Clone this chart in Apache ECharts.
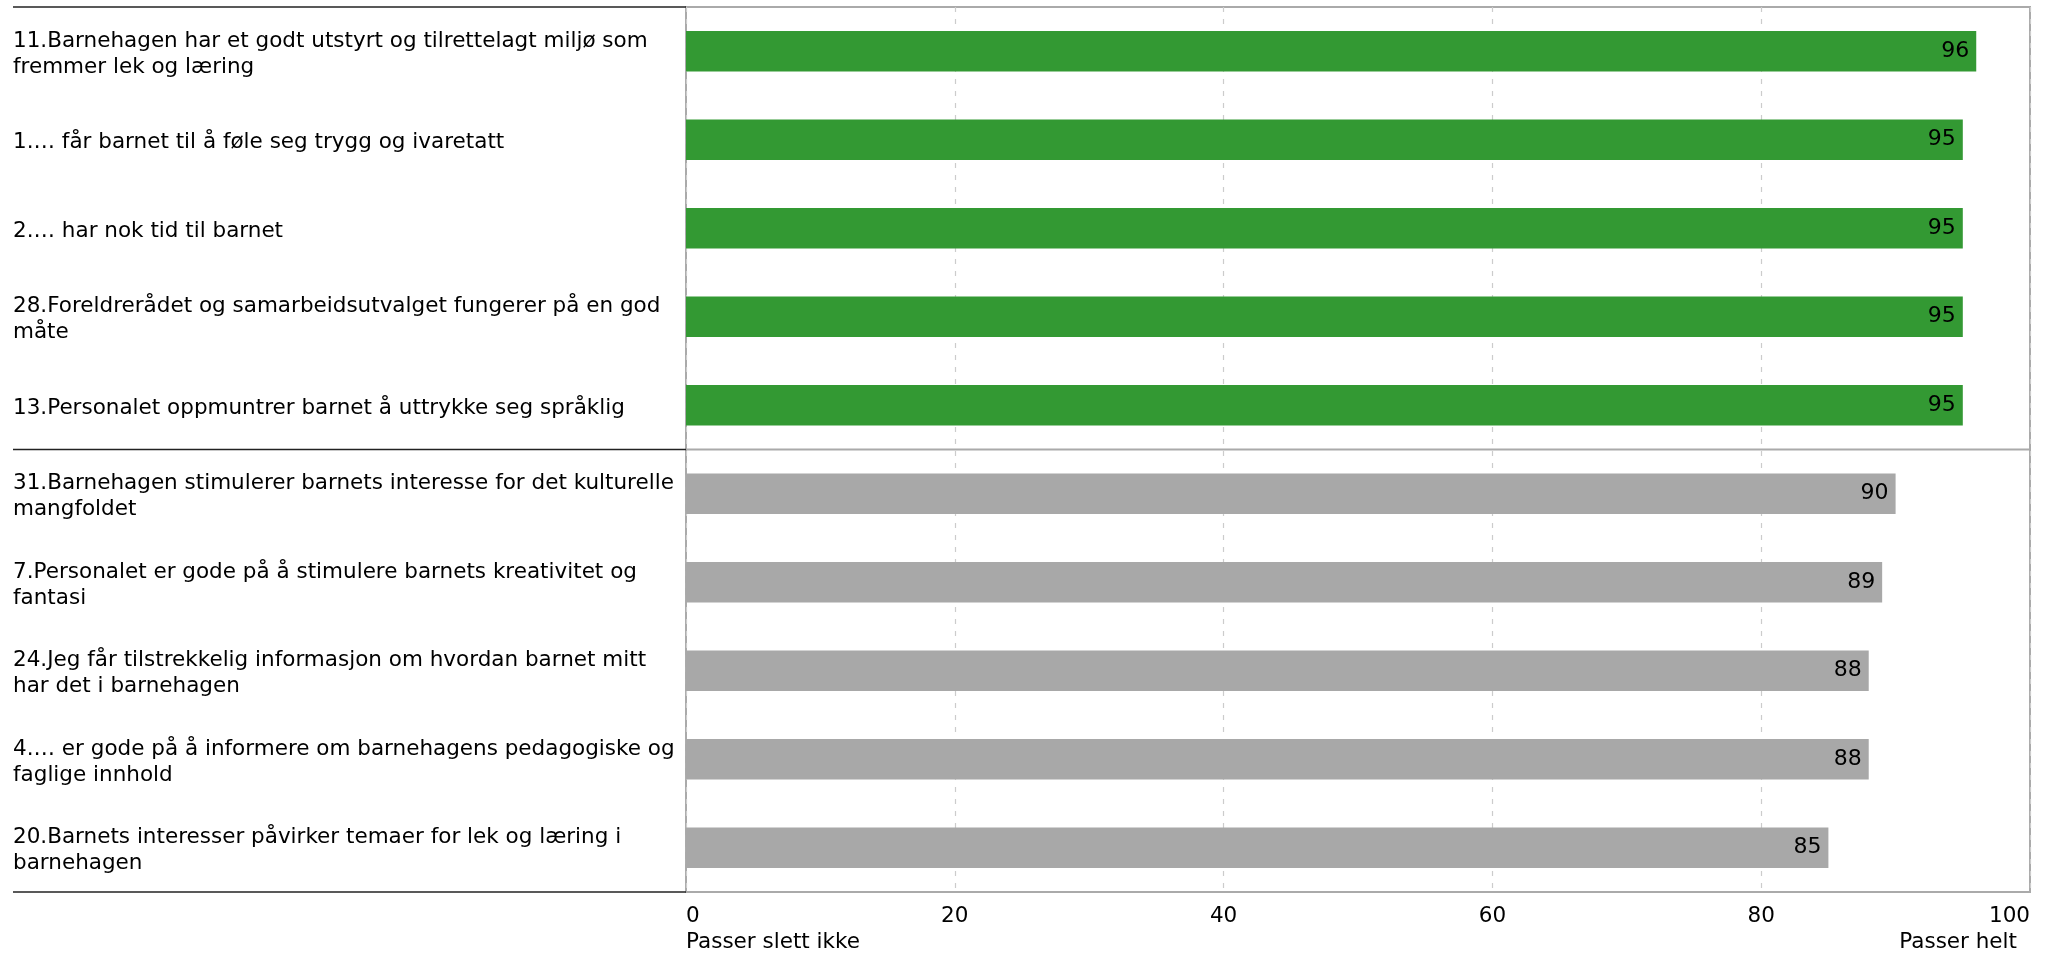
<!DOCTYPE html>
<html>
<head>
<meta charset="utf-8">
<script src="https://cdn.jsdelivr.net/npm/echarts@6/dist/echarts.min.js"></script>
<style>
html,body{margin:0;padding:0;background:#fff;}
#chart{width:2049px;height:953px;}
</style>
</head>
<body>
<div id="chart"></div>
<script>
const categories = [
  "11.Barnehagen har et godt utstyrt og tilrettelagt miljø som\nfremmer lek og læring",
  "1.… får barnet til å føle seg trygg og ivaretatt",
  "2.… har nok tid til barnet",
  "28.Foreldrerådet og samarbeidsutvalget fungerer på en god\nmåte",
  "13.Personalet oppmuntrer barnet å uttrykke seg språklig",
  "31.Barnehagen stimulerer barnets interesse for det kulturelle\nmangfoldet",
  "7.Personalet er gode på å stimulere barnets kreativitet og\nfantasi",
  "24.Jeg får tilstrekkelig informasjon om hvordan barnet mitt\nhar det i barnehagen",
  "4.… er gode på å informere om barnehagens pedagogiske og\nfaglige innhold",
  "20.Barnets interesser påvirker temaer for lek og læring i\nbarnehagen"
];
const values = [96, 95, 95, 95, 95, 90, 89, 88, 88, 85];
const highlighted = [1, 1, 1, 1, 1, 0, 0, 0, 0, 0];
const axisMinLabel = "Passer slett ikke";
const axisMaxLabel = "Passer helt";

const FONT = "DejaVu Sans";
const FS = 21.5;
const GRID = {left: 686, right: 19, top: 7, bottom: 61};
const chart = echarts.init(document.getElementById('chart'), null, {renderer: 'canvas'});

chart.setOption({
  animation: false,
  backgroundColor: '#fff',
  textStyle: {fontFamily: FONT},
  grid: {left: GRID.left, right: GRID.right, top: GRID.top, bottom: GRID.bottom,
         show: true, borderColor: '#aaaaaa', borderWidth: 2, containLabel: false},
  xAxis: {
    type: 'value', min: 0, max: 100, interval: 20,
    axisLine: {show: false}, axisTick: {show: false},
    splitLine: {show: true, lineStyle: {color: '#cccccc', type: [5, 7], width: 1.2}},
    axisLabel: {
      fontFamily: FONT, fontSize: FS, color: '#000', margin: 11,
      alignMinLabel: 'left', alignMaxLabel: 'right',
      formatter: function (v) {
        if (v === 0) return '{v|0}\n{n|' + axisMinLabel + '}';
        if (v === 100) return '{v|100}\n{m|' + axisMaxLabel + '}';
        return '{v|' + v + '}';
      },
      rich: {
        v: {fontFamily: FONT, fontSize: FS, color: '#000', lineHeight: 26},
        n: {fontFamily: FONT, fontSize: FS, color: '#000', lineHeight: 26},
        m: {fontFamily: FONT, fontSize: FS, color: '#000', lineHeight: 26, padding: [0, 13, 0, 0]}
      }
    }
  },
  yAxis: {
    type: 'category', inverse: true, data: categories,
    axisLine: {show: false}, axisTick: {show: false},
    axisLabel: {
      fontFamily: FONT, fontSize: FS, color: '#000', align: 'left', margin: 673,
      formatter: function (s) {
        return s.split('\n').map(function (line) { return '{a|' + line + '}'; }).join('\n');
      },
      rich: {
        a: {fontFamily: FONT, fontSize: FS, color: '#000', lineHeight: 26, padding: [6, 0, 0, 0]}
      }
    }
  },
  series: [{
    type: 'bar',
    data: values.map(function (v, i) {
      return {value: v, itemStyle: {color: highlighted[i] ? '#339933' : '#a8a8a8'}};
    }),
    barCategoryGap: '54%',
    label: {show: true, position: 'insideRight', distance: 7, color: '#000',
            fontFamily: FONT, fontSize: 22}
  }]
});

// separator lines (left part dark, divider inside plot grey)
const yTop = GRID.top, yBot = 953 - GRID.bottom;
const y4 = chart.convertToPixel({yAxisIndex: 0}, 4);
const y5 = chart.convertToPixel({yAxisIndex: 0}, 5);
const yDiv = (y4 + y5) / 2;
const plotRight = 2049 - GRID.right;
chart.setOption({
  graphic: [
    {type: 'line', shape: {x1: 13, y1: yTop, x2: GRID.left, y2: yTop}, style: {stroke: '#222', lineWidth: 1.5}, z: 100},
    {type: 'line', shape: {x1: 13, y1: yDiv, x2: GRID.left, y2: yDiv}, style: {stroke: '#222', lineWidth: 1.5}, z: 100},
    {type: 'line', shape: {x1: 13, y1: yBot, x2: GRID.left, y2: yBot}, style: {stroke: '#222', lineWidth: 1.5}, z: 100},
    {type: 'line', shape: {x1: GRID.left, y1: yDiv, x2: plotRight, y2: yDiv}, style: {stroke: '#aaaaaa', lineWidth: 2}, z: 100}
  ]
});
</script>
</body>
</html>
